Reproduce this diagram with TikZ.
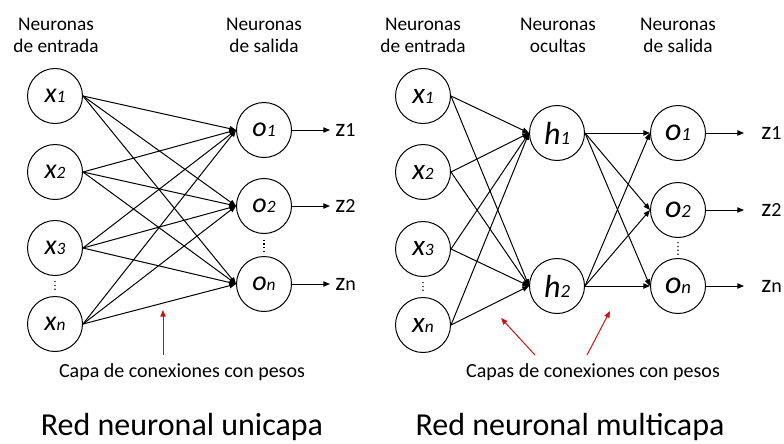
\documentclass[tikz,border=0pt]{standalone}
\usepackage{fontspec}
\setmainfont{Carlito}
\usetikzlibrary{arrows.meta,calc}

% letter with a smaller subscript digit/letter, both italic
\newcommand\nlab[4]{{\fontsize{#1pt}{#1pt}\selectfont\itshape #3}{\fontsize{#2pt}{#2pt}\selectfont\itshape #4}}
% upright output label
\newcommand\zlab[1]{{\fontsize{19pt}{19pt}\selectfont z}{\fontsize{15pt}{15pt}\selectfont #1}}

\tikzset{
  neuron/.style={circle, draw, line width=0.75pt, minimum size=41.25pt, inner sep=0pt},
  head/.style={align=center, font=\fontsize{14.5pt}{16.5pt}\selectfont},
  note/.style={font=\fontsize{15pt}{18pt}\selectfont},
  title/.style={font=\fontsize{24pt}{28pt}\selectfont},
  link/.style={line width=0.75pt, -{Triangle[length=5pt,width=4pt]}},
  redlink/.style={line width=0.75pt, draw={rgb,255:red,200;green,20;blue,20}, -{Triangle[length=5pt,width=4pt]}},
  vdots/.style={line width=0.9pt, dotted},
}

\begin{document}
\begin{tikzpicture}[x=0.75pt,y=-0.75pt]
\useasboundingbox (0,0) rectangle (784,443);

% ---------------- single-layer network ----------------
\node[head] (hA1) at (56,35) {Neuronas\\de entrada};
\node[head] (hA2) at (264,35) {Neuronas\\de salida};

\node[neuron] (ax1) at (55,96)  {\nlab{21}{13}{x}{1}};
\node[neuron] (ax2) at (55,172) {\nlab{21}{13}{x}{2}};
\node[neuron] (ax3) at (55,248) {\nlab{21}{13}{x}{3}};
\node[neuron] (axn) at (55,324) {\nlab{21}{13}{x}{n}};

\node[neuron] (ao1) at (264,130) {\nlab{21}{13}{o}{1}};
\node[neuron] (ao2) at (264,206) {\nlab{21}{13}{o}{2}};
\node[neuron] (aon) at (264,284) {\nlab{21}{13}{o}{n}};

\draw[vdots] ($(ax3.south)!0.25!(axn.north)$) -- ($(ax3.south)!0.8!(axn.north)$);
\draw[vdots] ($(ao2.south)!0.25!(aon.north)$) -- ($(ao2.south)!0.8!(aon.north)$);

\foreach \i in {x1,x2,x3,xn}
  \foreach \j in {o1,o2,on}
    \draw[link] (a\i.east) -- (a\j.west);

\coordinate (az1e) at (330,130);
\coordinate (az2e) at (330,206);
\coordinate (azne) at (330,284);
\draw[link] (ao1.east) -- (az1e);
\draw[link] (ao2.east) -- (az2e);
\draw[link] (aon.east) -- (azne);
\node[anchor=west, inner sep=0pt] (az1) at (335,130) {\zlab{1}};
\node[anchor=west, inner sep=0pt] (az2) at (335,206) {\zlab{2}};
\node[anchor=west, inner sep=0pt] (azn) at (335,284) {\zlab{n}};

\node[note] (acap) at (182,372) {Capa de conexiones con pesos};
\coordinate (aarT) at (163,310);
\coordinate (aarB) at (163,355);
\draw[redlink] (aarB) -- (aarT);

\node[title] (atitle) at (182,427) {Red neuronal unicapa};

% ---------------- multilayer network ----------------
\node[head] (hB1) at (423,35) {Neuronas\\de entrada};
\node[head] (hB2) at (558,35) {Neuronas\\ocultas};
\node[head] (hB3) at (678,35) {Neuronas\\de salida};

\node[neuron] (bx1) at (423,96)  {\nlab{22}{13}{x}{1}};
\node[neuron] (bx2) at (423,172) {\nlab{22}{13}{x}{2}};
\node[neuron] (bx3) at (423,249) {\nlab{22}{13}{x}{3}};
\node[neuron] (bxn) at (423,325) {\nlab{22}{13}{x}{n}};

\node[neuron] (bh1) at (557,133) {\nlab{24}{14}{h}{1}};
\node[neuron] (bh2) at (557,286) {\nlab{24}{14}{h}{2}};

\node[neuron] (bo1) at (678,133) {\nlab{24}{14}{o}{1}};
\node[neuron] (bo2) at (678,210) {\nlab{24}{14}{o}{2}};
\node[neuron] (bon) at (678,286) {\nlab{24}{14}{o}{n}};

\draw[vdots] ($(bx3.south)!0.25!(bxn.north)$) -- ($(bx3.south)!0.8!(bxn.north)$);
\draw[vdots] ($(bo2.south)!0.2!(bon.north)$) -- ($(bo2.south)!0.85!(bon.north)$);

\foreach \i in {x1,x2,x3,xn}
  \foreach \j in {h1,h2}
    \draw[link] (b\i.east) -- (b\j.west);
\foreach \i in {h1,h2}
  \foreach \j in {o1,o2,on}
    \draw[link] (b\i.east) -- (b\j.west);

\coordinate (bz1e) at (744,133);
\coordinate (bz2e) at (744,210);
\coordinate (bzne) at (744,286);
\draw[link] (bo1.east) -- (bz1e);
\draw[link] (bo2.east) -- (bz2e);
\draw[link] (bon.east) -- (bzne);
\node[anchor=west, inner sep=0pt] (bz1) at (761,133) {\zlab{1}};
\node[anchor=west, inner sep=0pt] (bz2) at (761,210) {\zlab{2}};
\node[anchor=west, inner sep=0pt] (bzn) at (761,286) {\zlab{n}};

\node[note] (bcap) at (593,372) {Capas de conexiones con pesos};
\coordinate (bar1T) at (501,318);
\coordinate (bar1B) at (535,355);
\coordinate (bar2T) at (610,311);
\coordinate (bar2B) at (587,355);
\draw[redlink] (bar1B) -- (bar1T);
\draw[redlink] (bar2B) -- (bar2T);

\node[title] (btitle) at (570,427) {Red neuronal multicapa};
\end{tikzpicture}
\end{document}
